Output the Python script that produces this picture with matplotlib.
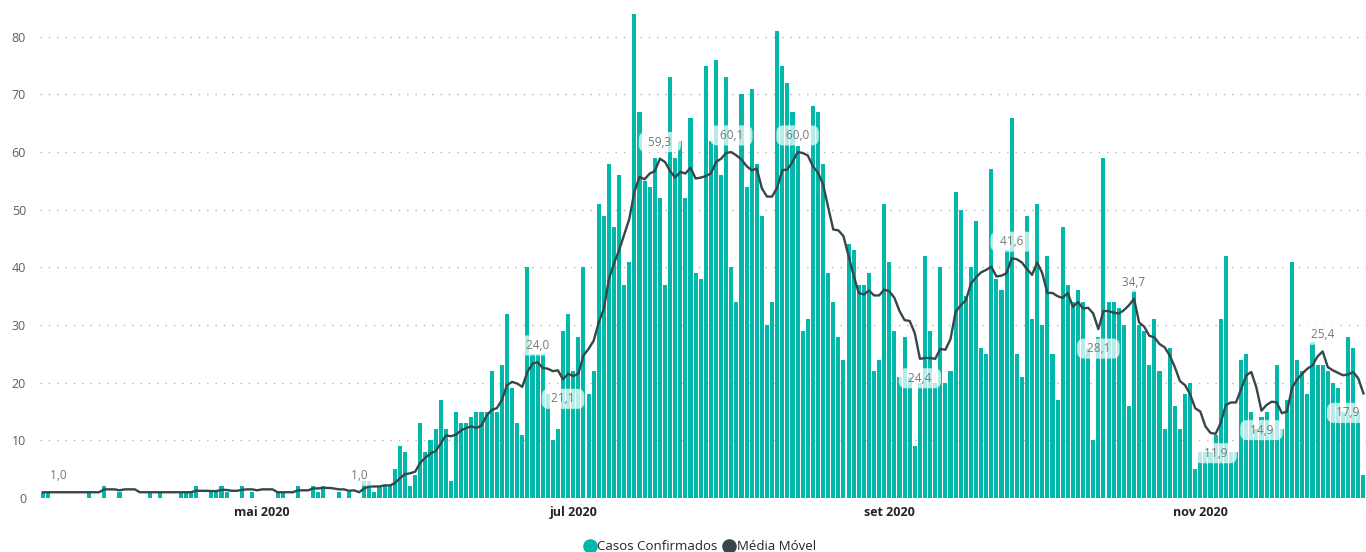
import numpy as np
import pandas as pd
import matplotlib
matplotlib.use('Agg')
import matplotlib.pyplot as plt
import matplotlib.dates as mdates
from matplotlib.lines import Line2D

plt.rcParams['font.family'] = ['Open Sans', 'DejaVu Sans']

# casos confirmados por dia, a partir de 19/03/2020
inicio = '2020-03-19'
casos = [
    1, 1, 0, 0, 0, 0, 0, 0, 0, 1,
    0, 0, 2, 0, 0, 1, 0, 0, 0, 0,
    0, 1, 0, 1, 0, 0, 0, 1, 1, 1,
    2, 0, 0, 1, 1, 2, 1, 0, 0, 2,
    0, 1, 0, 0, 0, 0, 1, 1, 0, 0,
    2, 0, 0, 2, 1, 2, 0, 0, 1, 0,
    1, 0, 0, 3, 3, 1, 2, 2, 2, 5,
    9, 8, 2, 4, 13, 8, 10, 12, 17, 12,
    3, 15, 13, 13, 14, 15, 15, 15, 22, 15,
    23, 32, 19, 13, 11, 40, 25, 25, 25, 18,
    10, 12, 29, 32, 22, 28, 40, 18, 22, 51,
    49, 58, 47, 56, 37, 41, 84, 67, 55, 54,
    59, 52, 37, 73, 59, 62, 52, 66, 39, 38,
    75, 62, 76, 56, 73, 40, 34, 70, 54, 71,
    58, 49, 30, 34, 81, 75, 72, 67, 61, 29,
    31, 68, 67, 58, 39, 34, 28, 24, 44, 43,
    37, 37, 39, 22, 24, 51, 41, 29, 21, 28,
    21, 9, 20, 42, 29, 20, 40, 20, 22, 53,
    50, 35, 40, 48, 26, 25, 57, 38, 36, 43,
    66, 25, 21, 49, 31, 51, 30, 42, 25, 17,
    47, 37, 34, 36, 34, 26, 10, 28, 59, 34,
    34, 33, 30, 16, 36, 30, 29, 23, 31, 22,
    12, 26, 16, 12, 18, 20, 5, 8, 8, 8,
    11, 31, 42, 8, 8, 24, 25, 15, 12, 14,
    15, 12, 23, 12, 17, 41, 24, 22, 18, 27,
    23, 23, 22, 20, 19, 15, 28, 26, 15, 4,
]

# rotulos da media movel mostrados no grafico
rotulo_datas = ['2020-03-22', '2020-05-20', '2020-06-24', '2020-06-29', '2020-07-18',
                '2020-08-01', '2020-08-14', '2020-09-07', '2020-09-25', '2020-10-12',
                '2020-10-19', '2020-11-04', '2020-11-13', '2020-11-25', '2020-12-03']
rotulo_textos = ['1,0', '1,0', '24,0', '21,1', '59,3', '60,1', '60,0', '24,4', '41,6',
                 '28,1', '34,7', '11,9', '14,9', '25,4', '17,9']
rotulo_lado = ['acima', 'acima', 'acima', 'abaixo', 'acima', 'acima', 'acima', 'abaixo',
               'acima', 'abaixo', 'acima', 'abaixo', 'abaixo', 'acima', 'abaixo']

meses = ['2020-05-01', '2020-07-01', '2020-09-01', '2020-11-01']
meses_txt = ['mai 2020', 'jul 2020', 'set 2020', 'nov 2020']

cor_barra = '#01B8AA'
cor_linha = '#374649'

dias = pd.date_range(inicio, periods=len(casos), freq='D')
serie = pd.Series(casos, index=dias, dtype=float)
# media movel de 7 dias (apenas dias com registro)
media = serie.replace(0, np.nan).rolling(7, min_periods=1).mean().dropna()

fig = plt.figure(figsize=(13.66, 5.52), dpi=100)
ax = fig.add_axes([40 / 1366, 54 / 552, 1326 / 1366, 490 / 552])

ax.bar(dias, serie.values, width=0.8, color=cor_barra, zorder=2)
ax.plot(media.index, media.values, color=cor_linha, lw=1.7, zorder=3)

for d, t, lado in zip(rotulo_datas, rotulo_textos, rotulo_lado):
    d = pd.Timestamp(d)
    y = media.asof(d)
    dy = 12 if lado == 'acima' else -14
    dx = -11 if d == dias[-1] else 0
    ax.annotate('  ' + t + '  ', (d, y), xytext=(dx, dy), textcoords='offset points',
                ha='center', va='center', fontsize=8.5, color='#777777', zorder=4,
                bbox=dict(boxstyle='round,pad=0.3,rounding_size=0.6', fc='white',
                          ec='none', alpha=0.72))

x0 = mdates.date2num(dias[0])
ax.set_xlim(x0 - 0.6, x0 + len(casos) - 0.5)
ax.set_ylim(0, 85)
ax.set_yticks(range(0, 81, 10))
ax.set_xticks(pd.to_datetime(meses))
ax.set_xticklabels(meses_txt, fontsize=9, fontweight='bold', color='#252423')
ax.tick_params(axis='y', length=0, pad=10, labelsize=9, labelcolor='#605E5C')
ax.tick_params(axis='x', length=0, pad=6)
for s in ax.spines.values():
    s.set_visible(False)
ax.yaxis.grid(True, color='#B5B5B5', linestyle=(0, (1, 5)), linewidth=1)
ax.set_axisbelow(True)

handles = [Line2D([], [], marker='o', ls='none', color=cor_barra, markersize=9.5),
           Line2D([], [], marker='o', ls='none', color=cor_linha, markersize=9.5)]
fig.legend(handles, ['Casos Confirmados', 'Média Móvel'], loc='lower center',
           bbox_to_anchor=(0.512, -0.024), ncol=2, frameon=False, fontsize=9.5,
           handletextpad=0.05, columnspacing=0.4, handlelength=1.0,
           labelcolor='#252423')

fig.savefig('out.png', dpi=100)
